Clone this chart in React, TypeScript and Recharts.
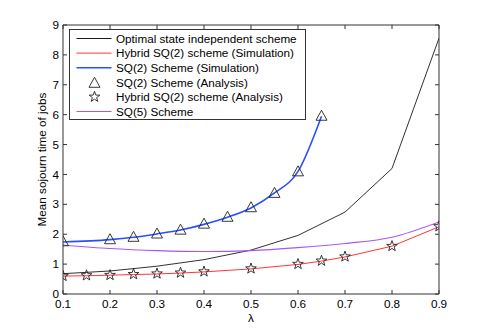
import React from "react"
import { ComposedChart, Line, XAxis, YAxis, Legend, Label } from "recharts"

// values
const xTicks = [0.1, 0.2, 0.3, 0.4, 0.5, 0.6, 0.7, 0.8, 0.9]
const yTicks = [0, 1, 2, 3, 4, 5, 6, 7, 8, 9]

const optimalX = [0.1, 0.2, 0.3, 0.4, 0.5, 0.6, 0.7, 0.8, 0.9]
const optimalY = [0.68, 0.77, 0.93, 1.15, 1.47, 1.96, 2.74, 4.2, 8.56]

const hybridX = [0.1, 0.15, 0.2, 0.25, 0.3, 0.35, 0.4, 0.5, 0.6, 0.65, 0.7, 0.8, 0.9]
const hybridSimY = [0.6, 0.61, 0.63, 0.65, 0.67, 0.7, 0.74, 0.84, 0.99, 1.1, 1.24, 1.6, 2.25]
const hybridAnaY = [0.6, 0.62, 0.63, 0.66, 0.68, 0.71, 0.75, 0.85, 1.0, 1.11, 1.25, 1.6, 2.26]

const sq2X = [0.1, 0.2, 0.25, 0.3, 0.35, 0.4, 0.45, 0.5, 0.55, 0.6, 0.65]
const sq2SimY = [1.74, 1.82, 1.9, 2.01, 2.14, 2.33, 2.57, 2.88, 3.38, 4.1, 5.95]
const sq2AnaY = [1.78, 1.85, 1.93, 2.04, 2.17, 2.37, 2.6, 2.92, 3.4, 4.12, 5.98]

const sq5X = [0.1, 0.2, 0.3, 0.4, 0.5, 0.6, 0.7, 0.8, 0.9]
const sq5Y = [1.64, 1.52, 1.45, 1.42, 1.45, 1.55, 1.69, 1.9, 2.41]

const zip = (xs: number[], ys: number[]) => xs.map((x, i) => ({ x, y: ys[i] }))

const FONT = "'Liberation Sans', Arial, Helvetica, sans-serif"
const AXIS = "#333"

const BLACK = "#1a1a1a"
const RED = "#ff3535"
const BLUE = "#2a4fff"
const PURPLE = "#a855f7"

function triPath(cx: number, cy: number) {
    return `M${cx},${cy - 5} L${cx + 5.5},${cy + 5} L${cx - 5.5},${cy + 5} Z`
}

function starPath(cx: number, cy: number) {
    const R = 5.6
    const r = R * 0.4
    let d = ""
    for (let i = 0; i < 10; i++) {
        const rad = i % 2 === 0 ? R : r
        const a = -Math.PI / 2 + (i * Math.PI) / 5
        d += (i === 0 ? "M" : "L") + (cx + rad * Math.cos(a)).toFixed(2) + "," + (cy + rad * Math.sin(a)).toFixed(2)
    }
    return d + "Z"
}

const TriangleDot = (props: any) => {
    const { cx, cy } = props
    if (cx == null || cy == null) return null
    return <path d={triPath(cx, cy)} fill="none" stroke="#222" strokeWidth={0.9} />
}

const StarDot = (props: any) => {
    const { cx, cy } = props
    if (cx == null || cy == null) return null
    return <path d={starPath(cx, cy)} fill="none" stroke="#222" strokeWidth={0.9} />
}

// top/right axes keep their tick marks but no labels
const NoLabel = () => <g />

const legendRows = [
    { label: "Optimal state independent scheme", kind: "line", color: BLACK },
    { label: "Hybrid SQ(2) scheme (Simulation)", kind: "line", color: RED },
    { label: "SQ(2) Scheme (Simulation)", kind: "line", color: BLUE },
    { label: "SQ(2) Scheme (Analysis)", kind: "tri", color: "#222" },
    { label: "Hybrid SQ(2) scheme (Analysis)", kind: "star", color: "#222" },
    { label: "SQ(5) Scheme", kind: "line", color: PURPLE },
]

const LegendBox = () => (
    <svg width={238} height={92} style={{ display: "block" }}>
        <rect x={0.5} y={0.5} width={236} height={90} fill="#fff" stroke={AXIS} strokeWidth={1} />
        {legendRows.map((r, i) => {
            const cy = 9.5 + i * 14.6
            return (
                <g key={r.label}>
                    {r.kind === "line" && <line x1={7.5} x2={42.5} y1={cy} y2={cy} stroke={r.color} strokeWidth={r.color === BLUE ? 1.5 : 1} />}
                    {r.kind === "tri" && <path d={triPath(25.5, cy)} fill="none" stroke={r.color} strokeWidth={0.9} />}
                    {r.kind === "star" && <path d={starPath(25.5, cy)} fill="none" stroke={r.color} strokeWidth={0.9} />}
                    <text x={47} y={cy + 4.2} fontSize={11.7} fontFamily={FONT} fill="#000">{r.label}</text>
                </g>
            )
        })}
    </svg>
)

const YTitle = (props: any) => {
    const vb = props.viewBox || { x: 0, y: 25, width: 63, height: 269 }
    const cx = 46
    const cy = vb.y + vb.height / 2
    return (
        <text x={cx} y={cy} transform={`rotate(-90, ${cx}, ${cy})`} textAnchor="middle" fontSize={11.7} fontFamily={FONT} fill="#000">
            Mean sojourn time of jobs
        </text>
    )
}

const tickStyle = { fontSize: 11.7, fontFamily: FONT, fill: "#000" }

export default function App() {
    return (
        <div style={{ position: "absolute", left: 0, top: 0, width: 485, height: 332, background: "#fff" }}>
            <ComposedChart width={485} height={332} margin={{ top: 24, right: 45, left: 0, bottom: 0 }}>
                <XAxis
                    xAxisId={0}
                    type="number"
                    dataKey="x"
                    domain={[0.1, 0.9]}
                    ticks={xTicks}
                    allowDataOverflow
                    height={38}
                    tickSize={-4}
                    tickMargin={10}
                    stroke={AXIS}
                    tick={tickStyle}
                    tickFormatter={(v: number) => v.toFixed(1)}
                >
                    <Label value="λ" position="insideBottom" offset={10} style={{ fontSize: 11.7, fontFamily: FONT, fill: "#000" }} />
                </XAxis>
                <XAxis
                    xAxisId="top"
                    orientation="top"
                    type="number"
                    dataKey="x"
                    domain={[0.1, 0.9]}
                    ticks={xTicks}
                    allowDataOverflow
                    height={1}
                    tickSize={-4}
                    tickMargin={0}
                    tick={<NoLabel />}
                    stroke={AXIS}
                />
                <YAxis
                    yAxisId={0}
                    type="number"
                    domain={[0, 9]}
                    ticks={yTicks}
                    allowDataOverflow
                    width={63}
                    tickSize={-4}
                    tickMargin={8}
                    stroke={AXIS}
                    tick={tickStyle}
                >
                    <Label content={YTitle} />
                </YAxis>
                <YAxis
                    yAxisId="right"
                    orientation="right"
                    type="number"
                    domain={[0, 9]}
                    ticks={yTicks}
                    allowDataOverflow
                    width={1}
                    tickSize={-4}
                    tickMargin={0}
                    tick={<NoLabel />}
                    stroke={AXIS}
                />
                <Legend layout="vertical" align="center" verticalAlign="middle" content={LegendBox} wrapperStyle={{ left: 69, top: 29, width: 238, height: 92 }} />

                {/* hidden series so the top and right frame axes get their scales */}
                <Line xAxisId="top" yAxisId="right" data={zip(optimalX, optimalY)} dataKey="y" stroke="none" dot={false} legendType="none" isAnimationActive={false} />

                <Line data={zip(optimalX, optimalY)} dataKey="y" type="linear" stroke={BLACK} strokeWidth={0.9} dot={false} isAnimationActive={false} />
                <Line data={zip(sq5X, sq5Y)} dataKey="y" type="monotone" stroke={PURPLE} strokeWidth={1.1} dot={false} isAnimationActive={false} />
                <Line data={zip(hybridX, hybridSimY)} dataKey="y" type="linear" stroke={RED} strokeWidth={1} dot={false} isAnimationActive={false} />
                <Line data={zip(sq2X, sq2SimY)} dataKey="y" type="monotone" stroke={BLUE} strokeWidth={1.6} dot={false} isAnimationActive={false} />
                <Line data={zip(sq2X, sq2AnaY)} dataKey="y" stroke="none" dot={<TriangleDot />} isAnimationActive={false} />
                <Line data={zip(hybridX, hybridAnaY)} dataKey="y" stroke="none" dot={<StarDot />} isAnimationActive={false} />
            </ComposedChart>
        </div>
    )
}
